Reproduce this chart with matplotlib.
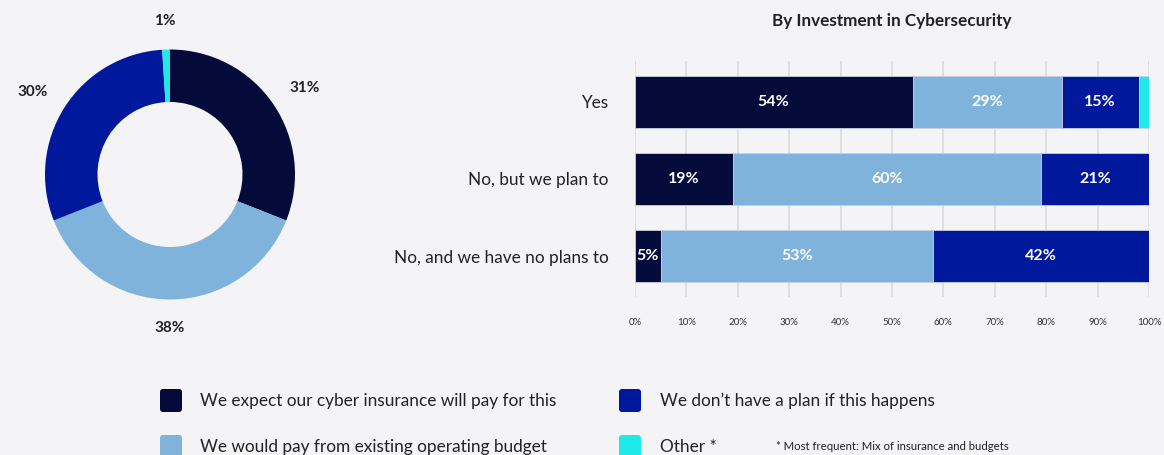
import matplotlib
matplotlib.use("Agg")
import matplotlib.pyplot as plt
from matplotlib.patches import FancyBboxPatch
import numpy as np

plt.rcParams['font.family'] = ['Lato', 'DejaVu Sans']

# Response categories (shared by donut, bars and legend)
response_labels = [
    "We expect our cyber insurance will pay for this",
    "We would pay from existing operating budget",
    "We don\u2019t have a plan if this happens",
    "Other *",
]
colors = ["#040b3b", "#80b3db", "#00189c", "#1eeaea"]

# Overall split (donut)
overall = [31, 38, 30, 1]

# Split by investment in cybersecurity (stacked bars)
investment_groups = ["Yes", "No, but we plan to", "No, and we have no plans to"]
insurance_share = [54, 19, 5]
budget_share = [29, 60, 53]
no_plan_share = [15, 21, 42]
other_share = [2, 0, 0]

tick_values = list(range(0, 101, 10))
title = "By Investment in Cybersecurity"
footnote = "* Most frequent: Mix of insurance and budgets"

W, H = 1164, 455
BG = "#f4f4f7"
TEXT = "#222222"
fig = plt.figure(figsize=(W / 100, H / 100), dpi=100, facecolor=BG)


def px_axes(left, top, width, height, **kw):
    return fig.add_axes([left / W, 1 - (top + height) / H, width / W, height / H], **kw)


# ---- overlay for the legend ----
lax = px_axes(0, 0, W, H)
lax.set_xlim(0, W)
lax.set_ylim(H, 0)
lax.axis("off")
lax.patch.set_alpha(0)

legend_slots = [(160, 389, 200), (619, 389, 660), (160, 435, 200), (619, 435, 660)]
legend_order = [0, 2, 1, 3]
for slot, idx in zip(legend_slots, legend_order):
    x0, y0, tx = slot
    lax.add_patch(FancyBboxPatch((x0 + 2, y0 + 2), 18, 19,
                                 boxstyle="round,pad=2,rounding_size=3",
                                 facecolor=colors[idx], edgecolor="none",
                                 clip_on=False))
    lax.text(tx, y0 + 12, response_labels[idx], fontsize=12.4, color=TEXT,
             ha="left", va="center")
lax.text(776, 447, footnote, fontsize=8.2, color=TEXT, ha="left", va="center")

# ---- donut ----
R_PX = 125.0
dax = px_axes(0, 4.5, 340, 340)
wedges, texts = dax.pie(overall, colors=colors, startangle=90, counterclock=False,
                        radius=1.0, labels=[f"{v}%" for v in overall],
                        labeldistance=1.25,
                        wedgeprops=dict(width=0.42, edgecolor="none", linewidth=0),
                        textprops=dict(fontsize=11, fontweight="bold", color=TEXT))
dax.set_xlim(-1.36, 1.36)
dax.set_ylim(-1.36, 1.36)
dax.set_aspect("equal")
dax.axis("off")

# put each label just outside the ring, keeping its box a fixed gap from the edge
fig.canvas.draw()
renderer = fig.canvas.get_renderer()
cum = np.cumsum([0] + overall[:-1])
for t, start, v in zip(texts, cum, overall):
    mid = np.deg2rad(90 - (start + v / 2) / sum(overall) * 360)
    ux, uy = np.cos(mid), np.sin(mid)
    bb = t.get_window_extent(renderer)
    dist_px = R_PX + 21 + bb.width / 2 * abs(ux) + bb.height / 2 * abs(uy)
    # labels sit a touch lower than the pure radial spot
    t.set_position((ux * dist_px / R_PX, (uy * dist_px - 6 * abs(ux)) / R_PX))
    t.set_ha("center")
    t.set_va("center")

# ---- stacked bars ----
bax = px_axes(634.9, 61, 514.1, 236)
bax.set_facecolor("none")
y = np.arange(len(investment_groups))
series = [insurance_share, budget_share, no_plan_share, other_share]
left = np.zeros(len(investment_groups))
for i, vals in enumerate(series):
    vals = np.array(vals, dtype=float)
    bax.barh(y, vals, left=left, height=0.675, color=colors[i],
             edgecolor="#c9cfe0", linewidth=0.6, zorder=3)
    if i < 3:
        for yy, l, v in zip(y, left, vals):
            if v > 0:
                bax.text(l + v / 2, yy, f"{int(v)}%", ha="center", va="center",
                         color="white", fontsize=11.5, fontweight="bold", zorder=4)
    left += vals

bax.set_xlim(0, 100)
bax.set_ylim(len(investment_groups) - 1 + 0.532, -0.532)
bax.set_xticks(tick_values)
bax.set_xticklabels([f"{v}%" for v in tick_values], fontsize=7, color="#333333")
bax.set_yticks(y)
bax.set_yticklabels(investment_groups, fontsize=12.4, color=TEXT)
bax.tick_params(axis="x", length=0, pad=15)
bax.tick_params(axis="y", length=0, pad=19)
bax.grid(axis="x", color="#dcdce1", linewidth=1.3, zorder=0)
bax.set_axisbelow(True)
for s in bax.spines.values():
    s.set_visible(False)
fig.text(892 / W, 1 - 21 / H, title, ha="center", va="center",
         fontsize=12.3, fontweight="bold", color=TEXT)

fig.savefig("out.png", dpi=100, facecolor=BG)
